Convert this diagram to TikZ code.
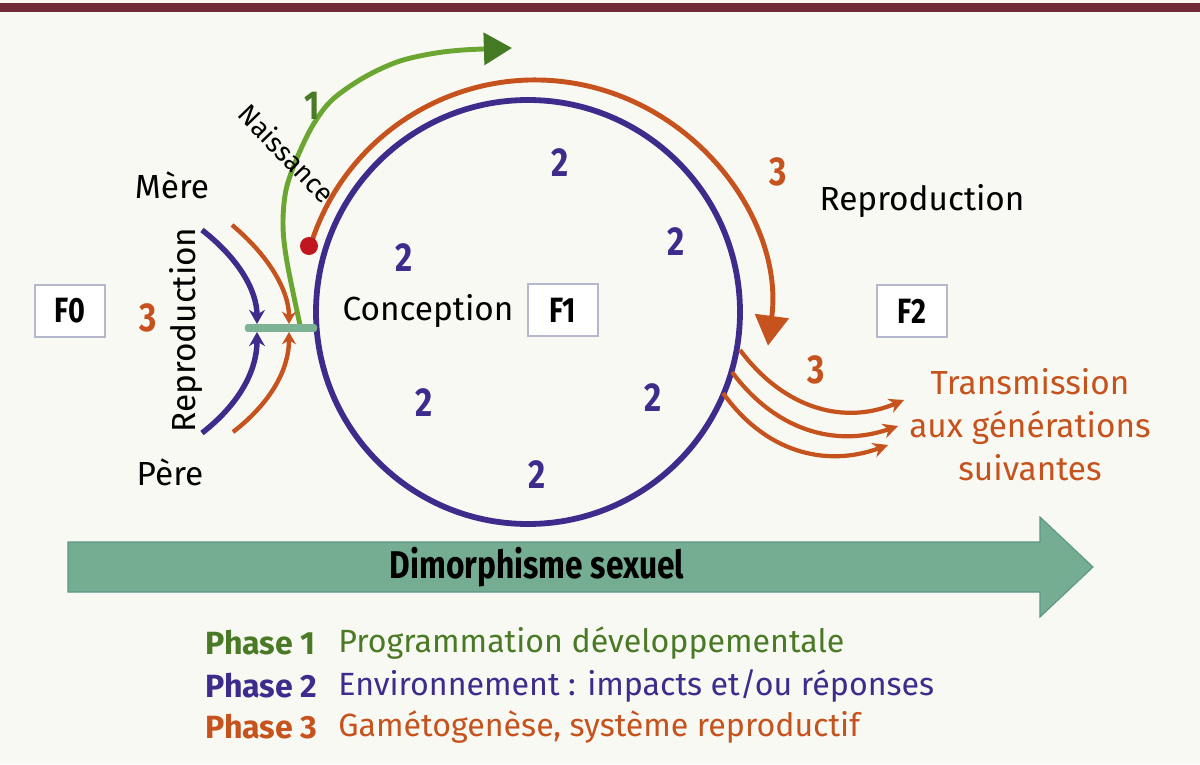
\documentclass[tikz,border=0pt]{standalone}
\usepackage{fontspec}
\setmainfont{Fira Sans}
\newfontfamily\condfont{Fira Sans}[FakeStretch=0.82]
\usetikzlibrary{arrows.meta}
\definecolor{bg}{HTML}{F8F9F2}
\definecolor{topbar}{HTML}{722C35}
\definecolor{purp}{HTML}{3E2B8C}
\definecolor{orng}{HTML}{C6521D}
\definecolor{grn}{HTML}{6CA632}
\definecolor{grnd}{HTML}{447A24}
\definecolor{grntxt}{HTML}{4B7A27}
\definecolor{tealc}{HTML}{74AD91}
\definecolor{tealedge}{HTML}{5A9688}
\definecolor{barc}{HTML}{7BB394}
\definecolor{reddot}{HTML}{C0161E}
\definecolor{boxedge}{HTML}{B5B8CC}
\tikzset{
  lbl/.style={font=\fontsize{19}{22}\selectfont, text=black, inner sep=0pt},
  num/.style={font=\condfont\bfseries\fontsize{23}{26}\selectfont, inner sep=0pt},
  fbox/.style={draw=boxedge, line width=1pt, fill=white, minimum width=40pt, minimum height=30pt,
    font=\condfont\bfseries\fontsize{20}{22}\selectfont, inner sep=0pt},
  purparc/.style={draw=purp, line width=3.1pt, -{Stealth[length=8pt,width=9pt]}},
  orarc/.style={draw=orng, line width=2.5pt, -{Stealth[length=7pt,width=8pt]}},
  transarc/.style={draw=orng, line width=2.4pt, -{Stealth[length=8.5pt,width=8.5pt]}},
  legh/.style={font=\bfseries\fontsize{18.3}{22}\selectfont, anchor=west, inner sep=0pt},
  legt/.style={font=\fontsize{18.3}{22}\selectfont, anchor=west, inner sep=0pt},
}
\begin{document}
\begin{tikzpicture}[x=0.02cm,y=-0.02cm]
\useasboundingbox (0,0) rectangle (1200,764);
\fill[bg] (0,0) rectangle (1200,764);
\fill[topbar] (0,3) rectangle (1200,12);

% big arrow
\filldraw[fill=tealc, draw=tealedge, line width=0.6pt]
  (68,542) -- (1040,542) -- (1040,517) -- (1093,567) -- (1040,617) -- (1040,592) -- (68,592) -- cycle;
\node[font=\condfont\bfseries\fontsize{22}{24}\selectfont, inner sep=0pt] (dimo) at (537,567) {Dimorphisme sexuel};

% circle
\node[circle, draw=purp, line width=3.3pt, minimum size=424*0.02cm, inner sep=0pt] (circ) at (528,312) {};

% orange big arc
\draw[draw=orng, line width=2.8pt, -{Triangle[length=17pt,width=19pt]}]
  (535,315) ++(-163:235) arc[start angle=-163, end angle=7.5, radius=235] coordinate (oend);
\fill[reddot] (309,246) circle[radius=9] coordinate (dot);

% green arc
\draw[draw=grn, line width=2.8pt, -{Triangle[length=16pt,width=18pt,color=grnd]}]
  plot[smooth, tension=0.55] coordinates {(300,325) (287,262) (283,225) (286,190) (297,158) (313,125) (332,100) (363,78) (397,62) (430,54) (463,50) (512,48)};

% mother/father arcs
\coordinate (mA) at (202,230); \coordinate (mB) at (257,324);
\coordinate (pA) at (202,433); \coordinate (pB) at (257,332);
\coordinate (oA) at (232,225); \coordinate (oB) at (289,324);
\coordinate (qA) at (233,432); \coordinate (qB) at (289,332);
\draw[purparc] (mA) .. controls (238,258) and (257,290) .. (mB);
\draw[purparc] (pA) .. controls (238,405) and (257,372) .. (pB);
\draw[orarc] (oA) .. controls (268,255) and (289,290) .. (oB);
\draw[orarc] (qA) .. controls (268,405) and (289,372) .. (qB);
\node[fill=barc, minimum width=41pt, minimum height=4.5pt, inner sep=0pt, rounded corners=1.5pt] (bar) at (281,328) {};

% transmission arcs
\draw[transarc] (740,350) .. controls (785,410) and (845,425) .. (904,400);
\draw[transarc] (732,372) .. controls (775,430) and (835,448) .. (898,426);
\draw[transarc] (723,393) .. controls (765,452) and (825,468) .. (888,445);

% boxes
\node[fbox] (F0) at (70,311) {F0};
\node[fbox] (F1) at (563,310) {F1};
\node[fbox] (F2) at (912,311) {F2};

% labels
\node[lbl] (mere) at (172,185) {Mère};
\node[lbl] (pere) at (170,472) {Père};
\node[lbl, rotate=90] (reproL) at (186,330) {Reproduction};
\node[lbl] (concep) at (428,311) {Conception};
\node[lbl] (reproR) at (922,201) {Reproduction};
\node[font=\fontsize{15.5}{17}\selectfont, rotate=-46, inner sep=0pt] (naiss) at (287,153) {Naissance};

\node[num, text=orng] (n3a) at (148,318) {3};
\node[num, text=grntxt] (n1) at (312,106) {1};
\node[num, text=orng] (n3b) at (778,172) {3};
\node[num, text=orng] (n3c) at (816,370) {3};
\node[num, text=purp] (n2a) at (560,163) {2};
\node[num, text=purp] (n2b) at (404,258) {2};
\node[num, text=purp] (n2c) at (676,242) {2};
\node[num, text=purp] (n2d) at (424,403) {2};
\node[num, text=purp] (n2e) at (653,398) {2};
\node[num, text=purp] (n2f) at (537,475) {2};

\node[font=\fontsize{19}{24.5}\selectfont, text=orng, align=center, inner sep=0pt] (trans) at (1030,425)
  {Transmission\\aux générations\\suivantes};

% legend
\node[legh, text=grntxt] (p1) at (205,643) {Phase 1};
\node[legt, text=grntxt] (t1) at (338,643) {Programmation développementale};
\node[legh, text=purp] (p2) at (205,686) {Phase 2};
\node[legt, text=purp] (t2) at (338,686) {Environnement : impacts et/ou réponses};
\node[legh, text=orng] (p3) at (205,727) {Phase 3};
\node[legt, text=orng] (t3) at (338,727) {Gamétogenèse, système reproductif};
\end{tikzpicture}
\end{document}
